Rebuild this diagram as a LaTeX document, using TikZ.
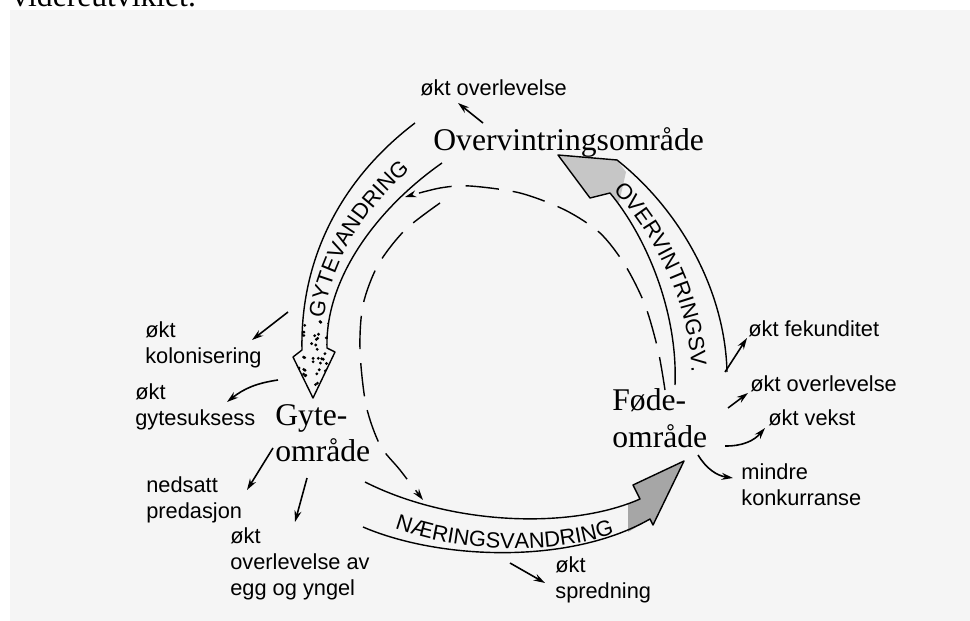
\documentclass[tikz,border=0pt]{standalone}
\usepackage{fontspec}
\setmainfont{Liberation Serif}
\setsansfont{Liberation Sans}
\usetikzlibrary{arrows.meta,decorations.text}

\begin{document}
\begin{tikzpicture}[x=0.02cm,y=0.02cm,
	area/.style={inner sep=0,anchor=west,align=left,font=\fontsize{18}{20.7}\selectfont},
	gain/.style={inner sep=0,anchor=west,align=left,font=\sffamily\fontsize{12.4}{14.8}\selectfont},
	eff/.style={line width=0.9pt,-{Stealth[length=6.5pt,width=4pt]}},
	mig/.style={line width=0.8pt,line join=round},
	cyc/.style={line width=0.8pt,dash pattern=on 19pt off 8pt,-{Stealth[length=6.5pt,width=4pt]}},
	migtext/.style={decorate,decoration={text along path,text align=center,
		text={|\sffamily\fontsize{12.5}{13}\selectfont|#1}}}]
	\useasboundingbox (0,0) rectangle (970,-621);
	\fill[black!4] (10,-10) rectangle (970,-621);
	\node[anchor=base west,inner sep=0,font=\fontsize{18}{21}\selectfont] (prev) at (12,-7) {videreutviklet.};

	% omraader
	\node[area] (over) at (433,-142) {Overvintringsområde};
	\node[area] (gyte) at (275,-433) {Gyte-\\område};
	\node[area] (fode) at (612,-418) {Føde-\\område};

	% gevinster
	\node[gain] (ovl) at (420,-88) {økt overlevelse};
	\node[gain] (kol) at (145,-345) {økt\\kolonisering};
	\node[gain] (gsuk) at (135,-407) {økt\\gytesuksess};
	\node[gain] (ned) at (146,-500) {nedsatt\\predasjon};
	\node[gain] (egg) at (230,-564) {økt\\overlevelse av\\egg og yngel};
	\node[gain] (spr) at (555,-580) {økt\\spredning};
	\node[gain] (fek) at (748,-329) {økt fekunditet};
	\node[gain] (ovr) at (750,-384) {økt overlevelse};
	\node[gain] (vek) at (768,-418) {økt vekst};
	\node[gain] (kon) at (741,-485) {mindre\\konkurranse};

	% gytevandring
	\begin{scope}
		\clip (442,-163) .. controls (375,-210) and (325,-280) .. (327,-348) -- (335,-352) -- (313,-398) -- (293,-357) -- (302,-350) .. controls (300,-260) and (340,-180) .. (415,-123) -- cycle;
		\pgfmathsetseed{11}
		\foreach \i in {1,...,60} {
			\pgfmathsetmacro{\dx}{290+45*rnd}
			\pgfmathsetmacro{\dy}{320+80*rnd}
			\fill (\dx,-\dy) circle[radius=0.9pt];
		}
	\end{scope}
	\draw[mig] (442,-163) .. controls (375,-210) and (325,-280) .. (327,-348) -- (335,-352) -- (313,-398) -- (293,-357) -- (302,-350) .. controls (300,-260) and (340,-180) .. (415,-123);
	\path[migtext=GYTEVANDRING] (322,-350) .. controls (320,-272) and (364,-201) .. (435,-150);

	% overvintringsvandring
	\fill[gray!45] (558,-155) -- (617,-160) -- (626,-172) -- (619,-203) -- (610,-193) -- (590,-198) -- cycle;
	\draw[mig] (675,-385) .. controls (678,-310) and (645,-235) .. (610,-193) -- (590,-198) -- (558,-155) -- (617,-160) .. controls (680,-210) and (725,-290) .. (727,-372);
	\path[migtext=OVERVINTRINGSV.] (605,-182) .. controls (653,-228) and (692,-303) .. (692,-384);

	% naeringsvandring
	\fill[gray!70] (628,-504) -- (640,-499) -- (633,-485) -- (684,-461) -- (653,-525) -- (650,-519) -- (628,-532) -- cycle;
	\draw[mig] (365,-482) .. controls (450,-525) and (570,-530) .. (640,-499) -- (633,-485) -- (684,-461) -- (653,-525) -- (650,-519) .. controls (570,-565) and (440,-560) .. (363,-527);
	\path[migtext=NÆRINGSVANDRING] (364,-516) .. controls (445,-556) and (570,-561) .. (645,-521);

	% stiplet syklus
	\coordinate (cyc-a) at (665,-390);
	\coordinate (cyc-b) at (405,-197);
	\coordinate (cyc-c) at (440,-203);
	\coordinate (cyc-d) at (423,-500);
	\draw[cyc] plot[smooth] coordinates {(cyc-a) (658,-350) (645,-305) (625,-265) (600,-233) (565,-210) (520,-193) (470,-186) (440,-188) (cyc-b)};
	\draw[cyc] plot[smooth] coordinates {(cyc-c) (405,-230) (378,-265) (363,-305) (360,-350) (366,-405) (380,-445) (400,-470) (cyc-d)};

	% piler til gevinster
	\coordinate (ovl-t) at (483,-123); \coordinate (ovl-h) at (458,-103);
	\coordinate (kol-t) at (288,-312); \coordinate (kol-h) at (252,-340);
	\coordinate (gsuk-t) at (278,-380); \coordinate (gsuk-h) at (227,-402);
	\coordinate (ned-t) at (273,-448); \coordinate (ned-h) at (247,-490);
	\coordinate (egg-t) at (307,-478); \coordinate (egg-h) at (295,-522);
	\coordinate (spr-t) at (510,-563); \coordinate (spr-h) at (545,-583);
	\coordinate (fek-t) at (725,-372); \coordinate (fek-h) at (747,-338);
	\coordinate (ovr-t) at (728,-408); \coordinate (ovr-h) at (748,-393);
	\coordinate (vek-t) at (725,-446); \coordinate (vek-h) at (765,-428);
	\coordinate (kon-t) at (698,-455); \coordinate (kon-h) at (733,-478);
	\draw[eff] (ovl-t) -- (ovl-h);
	\draw[eff] (kol-t) -- (kol-h);
	\draw[eff] (gsuk-t) to[bend right=15] (gsuk-h);
	\draw[eff] (ned-t) -- (ned-h);
	\draw[eff] (egg-t) -- (egg-h);
	\draw[eff] (spr-t) -- (spr-h);
	\draw[eff] (fek-t) -- (fek-h);
	\draw[eff] (ovr-t) -- (ovr-h);
	\draw[eff] (vek-t) to[bend right=25] (vek-h);
	\draw[eff] (kon-t) to[bend right=25] (kon-h);
\end{tikzpicture}
\end{document}
